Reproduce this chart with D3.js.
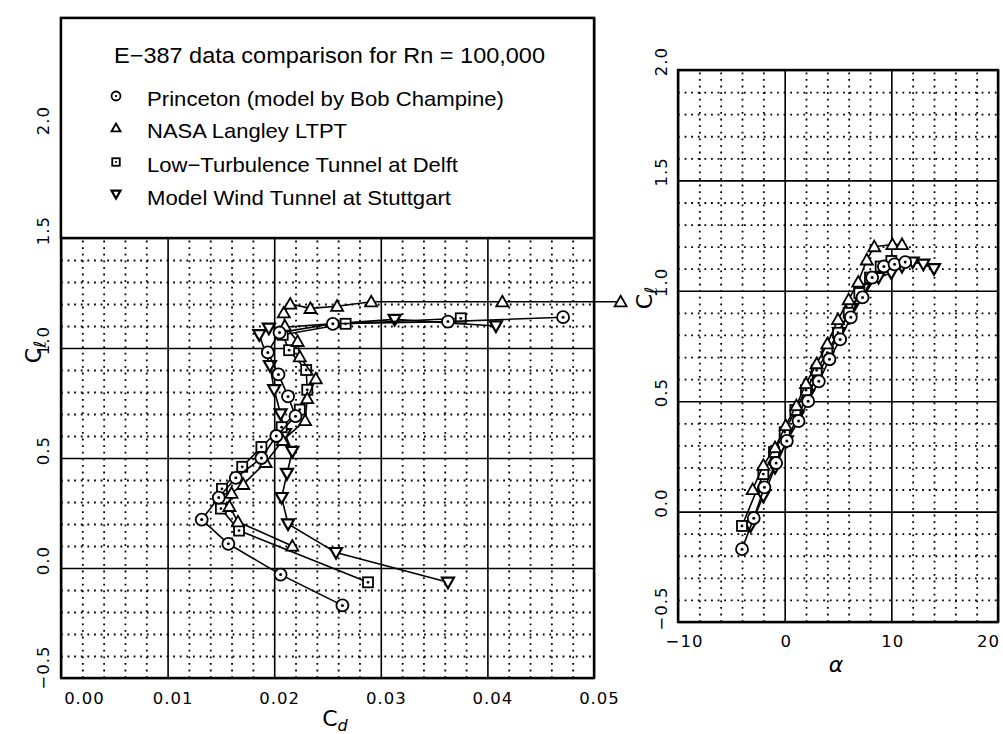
<!DOCTYPE html>
<html><head><meta charset="utf-8">
<script src="https://cdn.jsdelivr.net/npm/d3@7"></script>
<style>
body{margin:0;background:#fff}
svg{display:block}
</style>
</head><body>
<svg id="c" width="1003" height="734"></svg>
<script>
// ---------- data ----------
const cdTicks = [0, 0.01, 0.02, 0.03, 0.04, 0.05];
const cdTickLabels = ["0.00", "0.01", "0.02", "0.03", "0.04", "0.05"];
const clTicksLeft = [-0.5, 0, 0.5, 1.0, 1.5, 2.0];
const clTicksRight = [-0.5, 0, 0.5, 1.0, 1.5, 2.0];
const clTickLabels = ["−0.5", "0.0", "0.5", "1.0", "1.5", "2.0"];
const alphaTicks = [-10, 0, 10, 20];
const alphaTickLabels = ["−10", "0", "10", "20"];

const legendTitle = "E−387 data comparison for Rn = 100,000";
const seriesNames = ["Princeton (model by Bob Champine)", "NASA Langley LTPT",
  "Low−Turbulence Tunnel at Delft", "Model Wind Tunnel at Stuttgart"];

// Princeton (circles)
const princetonPolarCd = [0.0264, 0.0206, 0.0157, 0.0132, 0.0148, 0.0164, 0.0188, 0.0202, 0.0220, 0.0213, 0.0204, 0.0194, 0.0205, 0.0255, 0.0363, 0.0471];
const princetonPolarCl = [-0.17, -0.03, 0.11, 0.22, 0.32, 0.41, 0.50, 0.60, 0.69, 0.78, 0.88, 0.98, 1.07, 1.11, 1.12, 1.14];
const princetonLiftAlpha = [-4.0, -2.9, -1.9, -0.8, 0.2, 1.3, 2.2, 3.2, 4.2, 5.2, 6.2, 7.3, 8.2, 9.3, 10.3, 11.3];
const princetonLiftCl = [-0.17, -0.03, 0.11, 0.22, 0.32, 0.41, 0.50, 0.59, 0.69, 0.78, 0.88, 0.97, 1.06, 1.11, 1.12, 1.13];

// NASA Langley LTPT (triangles)
const nasaPolarCd = [0.0217, 0.0166, 0.0158, 0.0160, 0.0171, 0.0192, 0.0208, 0.0229, 0.0231, 0.0239, 0.0224, 0.0222, 0.0210, 0.0209, 0.0215, 0.0234, 0.0259, 0.0291, 0.0414, 0.0525];
const nasaPolarCl = [0.10, 0.21, 0.28, 0.34, 0.38, 0.48, 0.58, 0.67, 0.77, 0.86, 0.96, 1.03, 1.10, 1.16, 1.20, 1.18, 1.19, 1.21, 1.21, 1.21];
const nasaLiftAlpha = [-3.0, -2.0, -0.9, 0.1, 1.1, 2.0, 3.0, 4.0, 5.0, 6.0, 6.9, 7.7, 8.4, 10.1, 11.0];
const nasaLiftCl = [0.10, 0.21, 0.29, 0.39, 0.48, 0.58, 0.67, 0.76, 0.87, 0.96, 1.04, 1.14, 1.20, 1.21, 1.21];

// Delft (squares)
const delftPolarCd = [0.0288, 0.0167, 0.0150, 0.0151, 0.0170, 0.0188, 0.0207, 0.0224, 0.0231, 0.0230, 0.0214, 0.0208, 0.0267, 0.0375];
const delftPolarCl = [-0.065, 0.17, 0.27, 0.36, 0.46, 0.55, 0.64, 0.72, 0.81, 0.90, 0.99, 1.06, 1.11, 1.135];
const delftLiftAlpha = [-4.0, -2.0, -1.0, 0.0, 1.0, 2.0, 3.0, 4.0, 5.0, 6.0, 7.0, 8.0, 9.0, 10.0];
const delftLiftCl = [-0.065, 0.17, 0.27, 0.36, 0.46, 0.55, 0.64, 0.72, 0.81, 0.90, 0.99, 1.06, 1.11, 1.135];

// Stuttgart (inverted triangles)
const stuttPolarCd = [0.0363, 0.0258, 0.0213, 0.0207, 0.0212, 0.0217, 0.0210, 0.0206, 0.0200, 0.0196, 0.0186, 0.0195, 0.0313, 0.0408];
const stuttPolarCl = [-0.065, 0.07, 0.20, 0.32, 0.43, 0.53, 0.61, 0.70, 0.81, 0.92, 1.06, 1.09, 1.13, 1.10];
const stuttLiftAlpha = [-3.2, -2.0, -0.9, 0.2, 1.2, 2.2, 3.0, 4.0, 5.1, 6.2, 7.5, 8.8, 10.0, 11.0, 12.0, 13.0, 14.0];
const stuttLiftCl = [-0.065, 0.07, 0.20, 0.32, 0.43, 0.53, 0.61, 0.70, 0.81, 0.92, 1.01, 1.06, 1.08, 1.11, 1.13, 1.12, 1.10];

// ---------- setup ----------
const svg = d3.select("#c");
svg.append("rect").attr("width", 1003).attr("height", 734).attr("fill", "#fff");
const FONT = "'DejaVu Sans', sans-serif";
const LFONT = "'Liberation Sans', Arial, sans-serif";

const xL = d3.scaleLinear().domain([0, 0.05]).range([61, 594]);
const yL = d3.scaleLinear().domain([-0.5, 2.5]).range([678, 18]);
const xR = d3.scaleLinear().domain([-10, 20]).range([678, 998]);
const yR = d3.scaleLinear().domain([-0.5, 2.0]).range([622, 70]);

function minorOf(domain, step, majorStep) {
  const out = [];
  const n = Math.round((domain[1] - domain[0]) / step);
  for (let i = 0; i <= n; i++) {
    const v = domain[0] + i * step;
    const r = v / majorStep;
    if (Math.abs(r - Math.round(r)) > 1e-6) out.push(+v.toFixed(6));
  }
  return out;
}
function majorOf(domain, step) {
  const out = [];
  const n = Math.round((domain[1] - domain[0]) / step);
  for (let i = 0; i <= n; i++) out.push(+(domain[0] + i * step).toFixed(6));
  return out;
}

function drawGrid(x, y, xStepMaj, xStepMin, yStepMaj, yStepMin) {
  const g = svg.append("g");
  const [xa, xb] = x.range(), [ya, yb] = y.range();
  const h = ya - yb, w = xb - xa;
  const styleMinor = a => { a.select(".domain").remove(); a.selectAll("text").remove();
    a.selectAll("line").attr("stroke", "#000").attr("stroke-width", 1.8).attr("stroke-dasharray", "1.8,4.8"); };
  const styleMajor = a => { a.select(".domain").remove(); a.selectAll("text").remove();
    a.selectAll("line").attr("stroke", "#000").attr("stroke-width", 1.6); };
  g.append("g").attr("transform", `translate(0,${ya})`)
    .call(d3.axisBottom(x).tickValues(minorOf(x.domain(), xStepMin, xStepMaj)).tickSize(-h).tickFormat(""))
    .call(styleMinor);
  g.append("g").attr("transform", `translate(${xa},0)`)
    .call(d3.axisLeft(y).tickValues(minorOf(y.domain(), yStepMin, yStepMaj)).tickSize(-w).tickFormat(""))
    .call(styleMinor);
  g.append("g").attr("transform", `translate(0,${ya})`)
    .call(d3.axisBottom(x).tickValues(majorOf(x.domain(), xStepMaj)).tickSize(-h).tickFormat(""))
    .call(styleMajor);
  g.append("g").attr("transform", `translate(${xa},0)`)
    .call(d3.axisLeft(y).tickValues(majorOf(y.domain(), yStepMaj)).tickSize(-w).tickFormat(""))
    .call(styleMajor);
  g.append("rect").attr("x", xa).attr("y", yb).attr("width", w).attr("height", h)
    .attr("fill", "none").attr("stroke", "#000").attr("stroke-width", 2.4);
}

drawGrid(xL, yL, 0.01, 0.002, 0.5, 0.1);
drawGrid(xR, yR, 10, 2, 0.5, 0.1);

// legend box covering the top of the left plot
svg.append("rect").attr("x", xL(0)).attr("y", yL(2.5)).attr("width", xL(0.05) - xL(0))
  .attr("height", yL(1.5) - yL(2.5)).attr("fill", "#fff").attr("stroke", "#000").attr("stroke-width", 2.4);

// ---------- tick labels via axes ----------
function styleLabels(a) {
  a.select(".domain").remove();
  a.selectAll("line").remove();
  a.selectAll("text").attr("font-family", FONT).attr("font-size", 16.5).attr("fill", "#000")
    .attr("letter-spacing", 1);
}
// left x
svg.append("g").attr("transform", `translate(0,${yL(-0.5)})`)
  .call(d3.axisBottom(xL).tickValues(cdTicks).tickSize(0).tickFormat((d, i) => cdTickLabels[i]))
  .call(styleLabels)
  .call(a => a.selectAll("text").attr("y", 26).attr("dy", 0).attr("dx", (d, i) => i === 0 ? 23 : 5));
// right x
svg.append("g").attr("transform", `translate(0,${yR(-0.5)})`)
  .call(d3.axisBottom(xR).tickValues(alphaTicks).tickSize(0).tickFormat((d, i) => alphaTickLabels[i]))
  .call(styleLabels)
  .call(a => a.selectAll("text").attr("y", 25).attr("dy", 0)
    .attr("dx", (d, i) => i === 0 ? 6 : (i === alphaTicks.length - 1 ? -10 : 1)));
// left y (rotated)
svg.append("g").attr("transform", `translate(49,0)`)
  .call(d3.axisLeft(yL).tickValues(clTicksLeft).tickSize(0).tickFormat((d, i) => clTickLabels[i]))
  .call(styleLabels)
  .call(a => a.selectAll("text").attr("x", 0).attr("y", 0).attr("dy", 0).attr("text-anchor", "middle")
    .attr("transform", (d, i) => `translate(0,${i === 0 ? -11 : -8}) rotate(-90)`));
// right y (rotated)
svg.append("g").attr("transform", `translate(667,0)`)
  .call(d3.axisLeft(yR).tickValues(clTicksRight).tickSize(0).tickFormat((d, i) => clTickLabels[i]))
  .call(styleLabels)
  .call(a => a.selectAll("text").attr("x", 0).attr("y", 0).attr("dy", 0).attr("text-anchor", "middle")
    .attr("transform", (d, i) => `translate(0,${i === 0 ? -14 : -9}) rotate(-90)`));

// axis titles
const cdT = svg.append("text").attr("x", 335).attr("y", 726).attr("text-anchor", "middle")
  .attr("font-family", FONT).attr("font-size", 22);
cdT.append("tspan").text("C");
cdT.append("tspan").attr("font-size", 16).attr("font-style", "italic").attr("dy", 5).text("d");

svg.append("text").attr("x", 836).attr("y", 672).attr("text-anchor", "middle")
  .attr("font-family", FONT).attr("font-size", 22).attr("font-style", "italic").text("α");

function clTitle(x, y) {
  const t = svg.append("text").attr("transform", `translate(${x},${y}) rotate(-90)`)
    .attr("text-anchor", "middle").attr("font-family", FONT).attr("font-size", 22);
  t.append("tspan").text("C");
  t.append("tspan").attr("font-size", 17).attr("font-style", "italic").attr("dy", 5).text("ℓ");
}
clTitle(41, 352);
clTitle(652, 298);

// ---------- markers ----------
function drawMarker(g, type, k) {
  const sw = 1.8;
  if (type === "circle") {
    g.append("circle").attr("r", 6 * k).attr("fill", "#fff").attr("stroke", "#000").attr("stroke-width", sw);
    g.append("circle").attr("r", 1.5 * k).attr("fill", "#000");
  } else if (type === "tri") {
    g.append("path").attr("d", `M0,${-6 * k}L${6 * k},${4.6 * k}L${-6 * k},${4.6 * k}Z`)
      .attr("fill", "#fff").attr("stroke", "#000").attr("stroke-width", sw).attr("stroke-linejoin", "miter");
  } else if (type === "sq") {
    g.append("rect").attr("x", -5 * k).attr("y", -5 * k).attr("width", 10 * k).attr("height", 10 * k)
      .attr("fill", "#fff").attr("stroke", "#000").attr("stroke-width", sw);
    g.append("circle").attr("r", 1.4 * k).attr("fill", "#000");
  } else if (type === "itri") {
    g.append("path").attr("d", `M${-6 * k},${-4.6 * k}L${6 * k},${-4.6 * k}L0,${6 * k}Z`)
      .attr("fill", "#fff").attr("stroke", "#000").attr("stroke-width", 2.2).attr("stroke-linejoin", "miter");
  }
}

const series = [
  { marker: "circle", pcd: princetonPolarCd, pcl: princetonPolarCl, la: princetonLiftAlpha, lcl: princetonLiftCl },
  { marker: "tri", pcd: nasaPolarCd, pcl: nasaPolarCl, la: nasaLiftAlpha, lcl: nasaLiftCl },
  { marker: "sq", pcd: delftPolarCd, pcl: delftPolarCl, la: delftLiftAlpha, lcl: delftLiftCl },
  { marker: "itri", pcd: stuttPolarCd, pcl: stuttPolarCl, la: stuttLiftAlpha, lcl: stuttLiftCl }
];

function drawSeries(pts, x, y, marker) {
  const line = d3.line().x(d => x(d[0])).y(d => y(d[1]));
  svg.append("path").datum(pts).attr("d", line).attr("fill", "none")
    .attr("stroke", "#000").attr("stroke-width", 1.6);
  svg.append("g").selectAll("g").data(pts).join("g")
    .attr("transform", d => `translate(${x(d[0])},${y(d[1])})`)
    .each(function () { drawMarker(d3.select(this), marker, 1); });
}

const drawOrder = [3, 2, 1, 0];
drawOrder.forEach(i => {
  const s = series[i];
  drawSeries(d3.zip(s.pcd, s.pcl), xL, yL, s.marker);
  drawSeries(d3.zip(s.la, s.lcl), xR, yR, s.marker);
});

// ---------- legend content ----------
svg.append("text").attr("x", 114).attr("y", 63).attr("font-family", LFONT).attr("font-size", 22)
  .attr("textLength", 431).attr("lengthAdjust", "spacingAndGlyphs").text(legendTitle);
const legY = [98, 130, 164, 196];
const legBase = [106, 138, 172, 205];
const legW = [357, 200, 311, 304];
series.forEach((s, i) => {
  const g = svg.append("g").attr("transform", `translate(116,${legY[i] - 2})`);
  drawMarker(g, s.marker, 0.75);
  svg.append("text").attr("x", 147).attr("y", legBase[i]).attr("font-family", LFONT).attr("font-size", 21)
    .attr("textLength", legW[i]).attr("lengthAdjust", "spacingAndGlyphs").text(seriesNames[i]);
});
</script>
</body></html>
